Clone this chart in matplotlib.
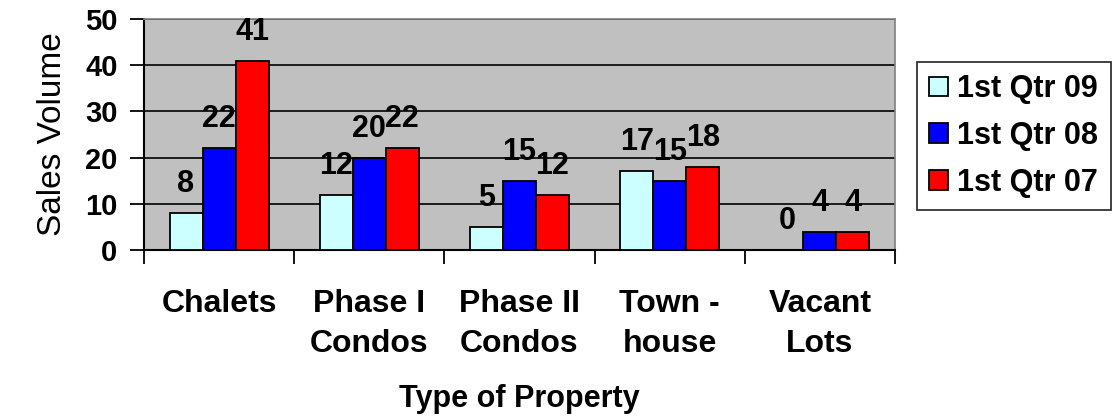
import matplotlib
matplotlib.use("Agg")
import matplotlib.pyplot as plt
import numpy as np

categories = ["Chalets", "Phase I\nCondos", "Phase II\nCondos", "Town -\nhouse", "Vacant\nLots"]
series_names = ["1st Qtr 09", "1st Qtr 08", "1st Qtr 07"]
q09 = [8, 12, 5, 17, 0]
q08 = [22, 20, 15, 15, 4]
q07 = [41, 22, 12, 18, 4]
colors = ["#CCFFFF", "#0000FF", "#FF0000"]

plt.rcParams['font.family'] = ['Liberation Sans', 'DejaVu Sans']

fig = plt.figure(figsize=(11.18, 4.16), dpi=100)
ax = fig.add_axes([144/1118, 1-250/416, (895-144)/1118, (250-19)/416])
ax.set_facecolor("#C0C0C0")

x = np.arange(len(categories))
w = 0.22
for i, (vals, c, name) in enumerate(zip([q09, q08, q07], colors, series_names)):
    pos = x + (i-1)*w
    ax.bar(pos, vals, width=w, color=c, edgecolor="black", linewidth=1.3, label=name, zorder=3)
    for p, v in zip(pos, vals):
        ax.annotate(str(v), (p, v), xytext=(0, 21), textcoords="offset pixels",
                    ha="center", va="baseline", fontsize=22, fontweight="bold",
                    zorder=4, annotation_clip=False)

ax.set_ylim(0, 50)
ax.set_xlim(-0.5, len(categories)-0.5)
ax.set_yticks([0, 10, 20, 30, 40, 50])
ax.yaxis.grid(True, color="black", linewidth=1.2, zorder=1)
ax.set_axisbelow(True)
ax.tick_params(axis="y", direction="out", length=10, width=1.3, labelsize=21, pad=9)
for t in ax.get_yticklabels():
    t.set_fontweight("bold")

ax.set_xticks(np.arange(-0.5, len(categories), 1.0))
ax.set_xticklabels([])
ax.tick_params(axis="x", which="major", direction="out", length=10, width=1.3)
ax.set_xticks(x, minor=True)
ax.set_xticklabels(categories, minor=True, fontsize=23, fontweight="bold", linespacing=1.45)
ax.tick_params(axis="x", which="minor", length=0, pad=28)

for s in ["top", "right"]:
    ax.spines[s].set_color("#808080")
    ax.spines[s].set_linewidth(1.2)
for s in ["left", "bottom"]:
    ax.spines[s].set_color("black")
    ax.spines[s].set_linewidth(1.5)

ax.set_ylabel("Sales Volume", fontsize=24, labelpad=12)
fig.text((144+895)/2/1118, 1-399/416, "Type of Property", ha="center", va="center",
         fontsize=22, fontweight="bold")

leg = fig.legend(loc="upper left", bbox_to_anchor=(917/1118, 1-62/416), frameon=True,
                 fancybox=False, edgecolor="black", prop={"size": 22, "weight": "bold"},
                 handlelength=0.62, handleheight=0.62, handletextpad=0.3,
                 labelspacing=0.55, borderpad=0.4, borderaxespad=0)
leg.get_frame().set_linewidth(1.3)

fig.savefig("out.png", dpi=100)
